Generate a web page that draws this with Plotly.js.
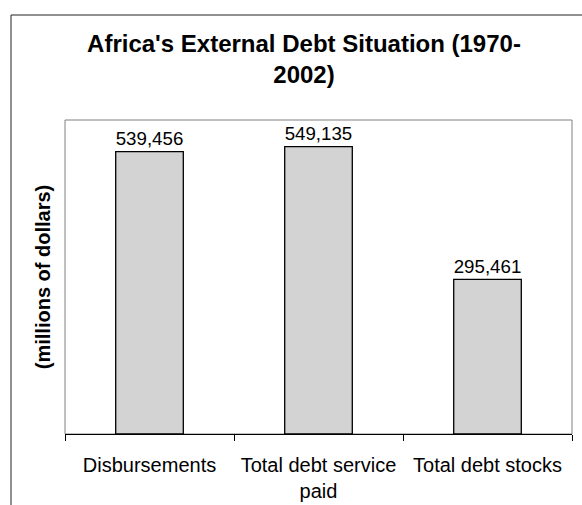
<!DOCTYPE html>
<html>
<head>
<meta charset="utf-8">
<script src="https://cdn.plot.ly/plotly-3.0.1.min.js"></script>
<style>html,body{margin:0;padding:0;background:#fff;}#chart{width:582px;height:505px;}</style>
</head>
<body>
<div id="chart"></div>
<script>
const categories = ["Disbursements", "Total debt service<br>paid", "Total debt stocks"];
const values = [539456, 549135, 295461];
const valueLabels = ["539,456", "549,135", "295,461"];
const chartTitle = "Africa's External Debt Situation (1970-<br>2002)";
const yTitle = "(millions of dollars)";

const FONT = "Arial, 'Liberation Sans', sans-serif";

const trace = {
  type: "bar",
  x: categories,
  y: values,
  text: valueLabels,
  textposition: "outside",
  cliponaxis: false,
  textfont: {family: FONT, size: 19.5, color: "#000"},
  marker: {color: "#d3d3d3", line: {color: "#000", width: 1.3}},
  width: 0.4,
  hoverinfo: "none"
};

const layout = {
  width: 582, height: 505,
  margin: {l: 65, r: 10, t: 120, b: 71, pad: 0},
  paper_bgcolor: "#fff", plot_bgcolor: "#fff",
  showlegend: false,
  title: {
    text: chartTitle,
    font: {family: FONT, size: 24, color: "#000", weight: "bold"},
    xref: "container", x: 304/582, xanchor: "center",
    yref: "container", y: 1 - 52/505, yanchor: "top"
  },
  xaxis: {
    type: "category",
    showline: true, linecolor: "#000", linewidth: 1,
    ticks: "outside", ticklen: 6, tickcolor: "#000", tickwidth: 1,
    tickson: "boundaries",
    ticklabelstandoff: 13,
    showgrid: false, zeroline: false,
    tickfont: {family: FONT, size: 20, color: "#000"},
    fixedrange: true
  },
  yaxis: {
    range: [0, 600000],
    showticklabels: false, ticks: "", showgrid: false, zeroline: false, showline: false,
    title: {text: yTitle, font: {family: FONT, size: 20, color: "#000", weight: "bold"}, standoff: 8},
    automargin: false,
    fixedrange: true
  },
  shapes: [
    {type: "rect", xref: "paper", yref: "paper", x0: 0, x1: 1, y0: 0, y1: 1,
     line: {color: "#808080", width: 1}, fillcolor: "rgba(0,0,0,0)", layer: "below"},
    {type: "rect", xref: "paper", yref: "paper",
     x0: (11 - 65) / 507, x1: (620 - 65) / 507, y0: (434 - 540) / 314, y1: (434 - 15) / 314,
     line: {color: "#222", width: 1}, fillcolor: "rgba(0,0,0,0)", layer: "above"}
  ]
};

Plotly.newPlot("chart", [trace], layout, {displayModeBar: false, staticPlot: true});
</script>
</body>
</html>
